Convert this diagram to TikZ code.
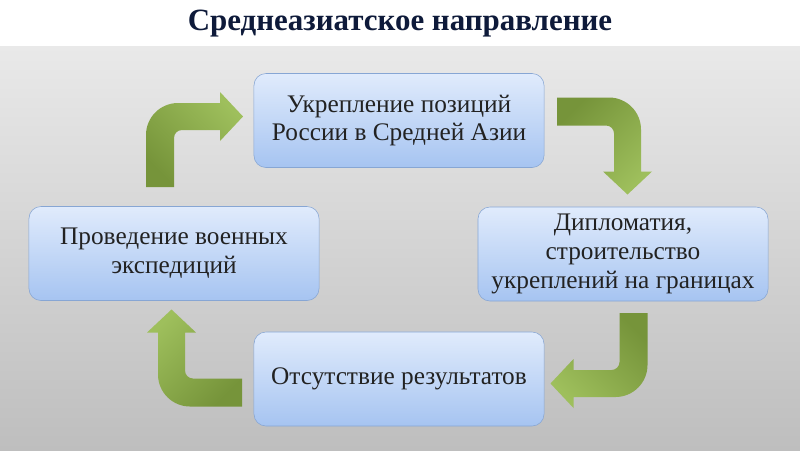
\documentclass[tikz,border=0pt]{standalone}
\usepackage{fontspec}
\setmainfont{Liberation Serif}
\usepackage{tikz}
\usetikzlibrary{positioning}

\definecolor{bgtop}{RGB}{233,233,233}
\definecolor{bgbot}{RGB}{190,190,190}
\definecolor{boxtop}{RGB}{224,235,252}
\definecolor{boxbot}{RGB}{166,196,241}
\definecolor{boxline}{RGB}{135,166,212}
\definecolor{arrowlight}{RGB}{158,191,92}
\definecolor{arrowdark}{RGB}{118,148,58}
\definecolor{titlecol}{RGB}{14,26,58}
\definecolor{textcol}{RGB}{34,34,34}

\tikzset{
  box/.style={draw=boxline, rounded corners=0.3cm, top color=boxtop, bottom color=boxbot,
    minimum width=7.25cm, minimum height=2.35cm, align=center, text=textcol,
    font=\fontsize{18}{20.5}\selectfont},
  bend/.pic={
    \shade[top color=arrowlight, bottom color=arrowdark, shading angle=#1]
      (-14,0) -- (-14,-52) arc[start angle=180, end angle=270, radius=32]
      -- (60,-84) -- (60,-95) -- (83,-70.5) -- (60,-46) -- (60,-57)
      -- (22,-57) arc[start angle=270, end angle=180, radius=8]
      -- (14,0) -- cycle;
  }
}

\begin{document}
\begin{tikzpicture}[x=0.025cm, y=-0.025cm]
\useasboundingbox (0,0) rectangle (800,450);
\fill[white] (0,0) rectangle (800,46);
\shade[top color=bgtop, bottom color=bgbot] (0,46) rectangle (800,450);

\node[text=titlecol, font=\fontsize{22}{26}\selectfont\bfseries] (title) at (400,24) {Среднеазиатское направление};

\node[box] (top) at (399,120.5) {Укрепление позиций\\России в Средней Азии};
\node[box] (right) at (623,254) {Дипломатия,\\строительство\\укреплений на границах};
\node[box] (bottom) at (399,379) {Отсутствие результатов};
\node[box] (left) at (174,253.5) {Проведение военных\\экспедиций};

\pic at (160,187) {bend=-45};
\pic[rotate=-90] at (557,111.5) {bend=225};
\pic[rotate=180] at (633.5,313) {bend=135};
\pic[rotate=90] at (242,392.5) {bend=45};
\end{tikzpicture}
\end{document}
